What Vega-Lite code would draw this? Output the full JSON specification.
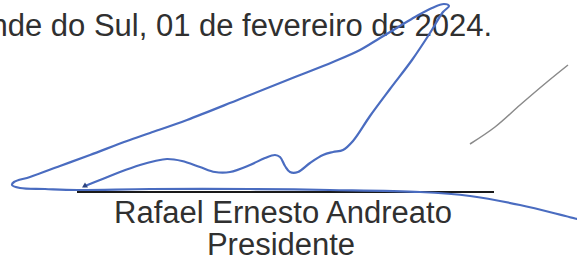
{
  "$schema": "https://vega.github.io/schema/vega-lite/v6.json",
  "width": 577,
  "height": 260,
  "autosize": {"type": "none"},
  "padding": 0,
  "background": "white",
  "config": {"view": {"stroke": null}},
  "datasets": {
    "sig": [
      {"i": 1, "x": 85, "y": 186}, {"i": 2, "x": 100, "y": 180}, {"i": 3, "x": 120, "y": 172},
      {"i": 4, "x": 140, "y": 165}, {"i": 5, "x": 155, "y": 161}, {"i": 6, "x": 167, "y": 159},
      {"i": 7, "x": 182, "y": 161}, {"i": 8, "x": 200, "y": 167}, {"i": 9, "x": 215, "y": 172},
      {"i": 10, "x": 230, "y": 172}, {"i": 11, "x": 250, "y": 165}, {"i": 12, "x": 265, "y": 158},
      {"i": 13, "x": 275, "y": 155}, {"i": 14, "x": 280, "y": 157}, {"i": 15, "x": 285, "y": 166},
      {"i": 16, "x": 290, "y": 172}, {"i": 17, "x": 298, "y": 172}, {"i": 18, "x": 310, "y": 163},
      {"i": 19, "x": 323, "y": 155}, {"i": 20, "x": 333, "y": 152}, {"i": 21, "x": 343, "y": 150},
      {"i": 22, "x": 353, "y": 141}, {"i": 23, "x": 370, "y": 116}, {"i": 24, "x": 390, "y": 89},
      {"i": 25, "x": 412, "y": 60}, {"i": 26, "x": 430, "y": 33}, {"i": 27, "x": 443, "y": 12},
      {"i": 28, "x": 449, "y": 6}, {"i": 29, "x": 444, "y": 4}, {"i": 30, "x": 432, "y": 8},
      {"i": 31, "x": 415, "y": 17}, {"i": 32, "x": 400, "y": 26}, {"i": 33, "x": 380, "y": 38},
      {"i": 34, "x": 360, "y": 50}, {"i": 35, "x": 333, "y": 62}, {"i": 36, "x": 290, "y": 79},
      {"i": 37, "x": 240, "y": 99}, {"i": 38, "x": 187, "y": 120}, {"i": 39, "x": 150, "y": 133},
      {"i": 40, "x": 127, "y": 141}, {"i": 41, "x": 90, "y": 155}, {"i": 42, "x": 60, "y": 166},
      {"i": 43, "x": 30, "y": 177}, {"i": 44, "x": 14, "y": 182}, {"i": 45, "x": 12, "y": 185},
      {"i": 46, "x": 20, "y": 188}, {"i": 47, "x": 45, "y": 189}, {"i": 48, "x": 77, "y": 190},
      {"i": 49, "x": 150, "y": 189}, {"i": 50, "x": 250, "y": 189}, {"i": 51, "x": 330, "y": 190},
      {"i": 52, "x": 420, "y": 192}, {"i": 53, "x": 470, "y": 196}, {"i": 54, "x": 520, "y": 205},
      {"i": 55, "x": 577, "y": 219}
    ],
    "gray": [
      {"i": 1, "x": 470, "y": 144}, {"i": 2, "x": 495, "y": 127}, {"i": 3, "x": 520, "y": 105},
      {"i": 4, "x": 547, "y": 82}, {"i": 5, "x": 568, "y": 65}
    ],
    "rule": [
      {"i": 1, "x": 77, "y": 192}, {"i": 2, "x": 494, "y": 192}
    ],
    "blob": [{"x": 85, "y": 185}],
    "top": [{"label": "Campina Grande do Sul, 01 de fevereiro de 2024.", "x": 492, "y": 36}],
    "bottom": [
      {"label": "Rafael Ernesto Andreato", "x": 283, "y": 223},
      {"label": "Presidente", "x": 281, "y": 255}
    ]
  },
  "encoding": {
    "x": {"field": "x", "type": "quantitative", "scale": {"domain": [0, 577], "nice": false, "zero": false}, "axis": null},
    "y": {"field": "y", "type": "quantitative", "scale": {"domain": [0, 260], "nice": false, "zero": false, "reverse": true}, "axis": null}
  },
  "layer": [
    {
      "data": {"name": "top"},
      "mark": {"type": "text", "align": "right", "baseline": "alphabetic", "font": "Liberation Sans", "fontSize": 31, "fill": "#303030"},
      "encoding": {"text": {"field": "label"}}
    },
    {
      "data": {"name": "bottom"},
      "mark": {"type": "text", "align": "center", "baseline": "alphabetic", "font": "Liberation Sans", "fontSize": 31, "fill": "#303030"},
      "encoding": {"text": {"field": "label"}}
    },
    {
      "data": {"name": "rule"},
      "mark": {"type": "line", "stroke": "#1a1a1a", "strokeWidth": 2},
      "encoding": {"order": {"field": "i"}}
    },
    {
      "data": {"name": "gray"},
      "mark": {"type": "line", "stroke": "#8a8a8a", "strokeWidth": 1.5, "interpolate": "catmull-rom"},
      "encoding": {"order": {"field": "i"}}
    },
    {
      "data": {"name": "sig"},
      "mark": {"type": "line", "stroke": "#4a6cc0", "strokeWidth": 2.2, "interpolate": "catmull-rom", "strokeCap": "round", "strokeJoin": "round"},
      "encoding": {"order": {"field": "i"}}
    },
    {
      "data": {"name": "blob"},
      "mark": {"type": "point", "shape": "triangle-up", "filled": true, "fill": "#2d4480", "size": 35, "opacity": 1}
    }
  ]
}
